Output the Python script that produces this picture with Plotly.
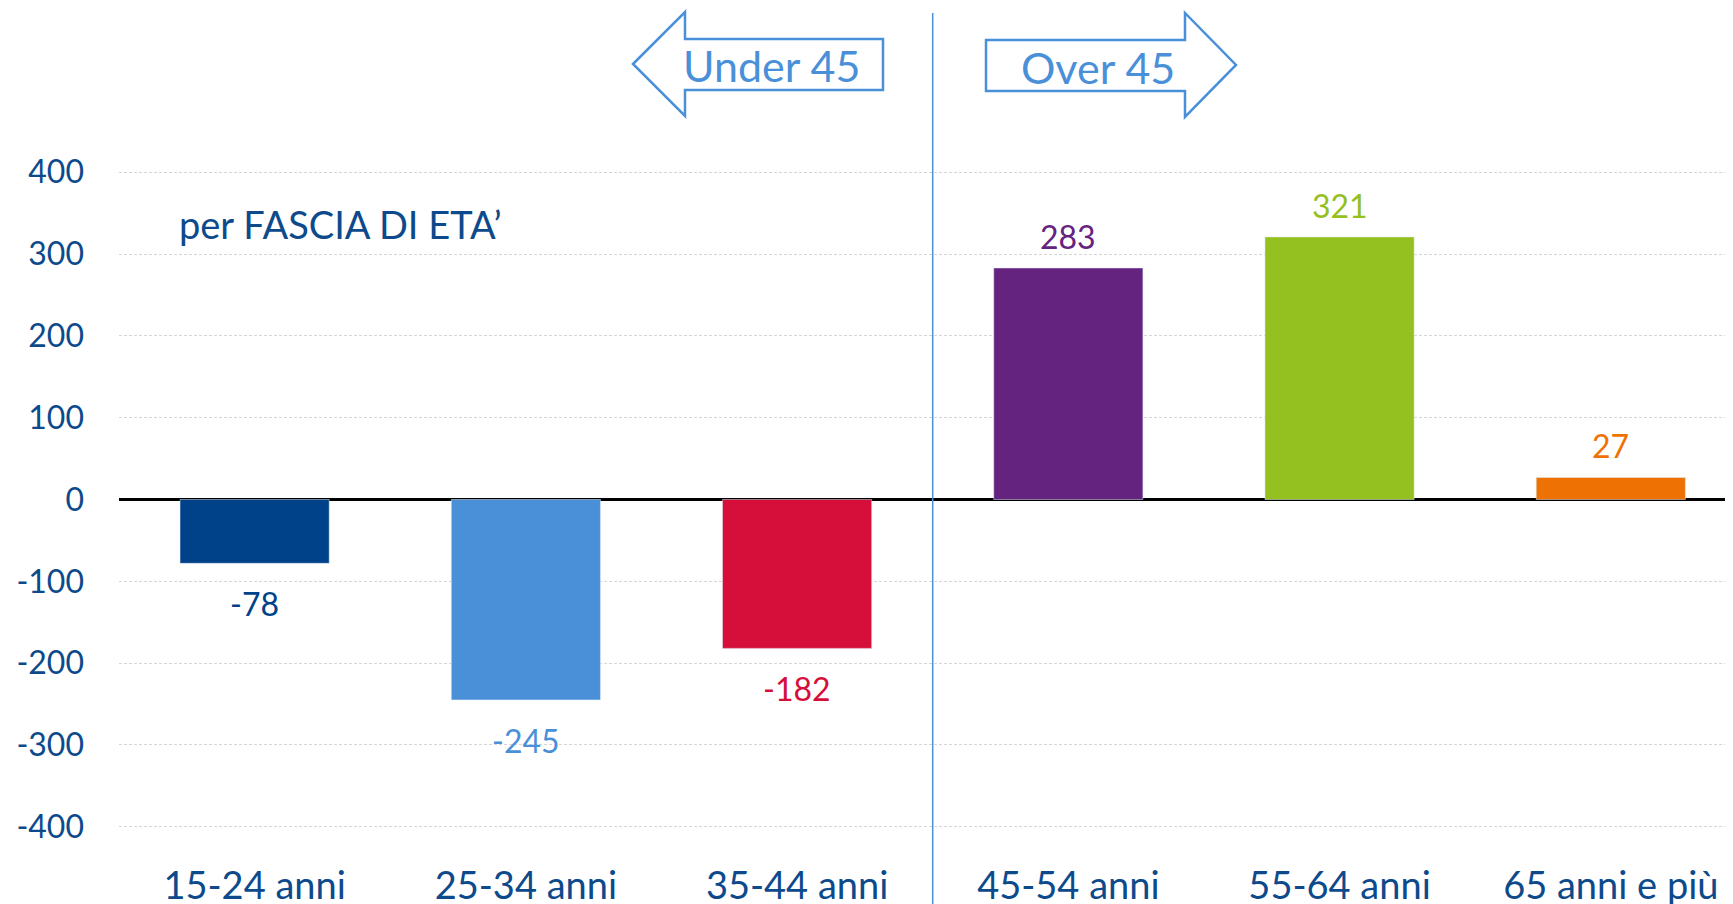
import plotly.graph_objects as go

# data
categories = ["15-24 anni", "25-34 anni", "35-44 anni", "45-54 anni", "55-64 anni", "65 anni e più"]
values = [-78, -245, -182, 283, 321, 27]
bar_colors = ["#00428a", "#4a90d9", "#d50f3a", "#652380", "#94c11f", "#ee7203"]
y_ticks = [-400, -300, -200, -100, 0, 100, 200, 300, 400]
y_tick_text = ["-400", "-300", "-200", "-100", "0", "100", "200", "300", "400"]

W, H = 1733, 904
OFF = 8  # page offset of the plot div
# plot area in page pixels (as seen in the screenshot), y range is +-404
PAGE_L, PAGE_R, PAGE_T, PAGE_B = 119, 1741, 169, 830
M_L, M_R = PAGE_L - OFF, W - (PAGE_R - OFF)
M_T, M_B = PAGE_T - OFF, H - (PAGE_B - OFF)

TEXT_BLUE = "#0d4a8c"
LINE_BLUE = "#4a90d9"
FONT = "Lato"


def px_x(p):
    return (p - PAGE_L) / (PAGE_R - PAGE_L)


def px_y(p):
    return (PAGE_B - p) / (PAGE_B - PAGE_T)


fig = go.Figure()

fig.add_trace(
    go.Bar(
        x=list(range(len(categories))),
        y=values,
        marker_color=bar_colors,
        width=0.55,
        hoverinfo="x+y",
    )
)

# value labels coloured like the bars
for i, (v, c) in enumerate(zip(values, bar_colors)):
    fig.add_annotation(
        x=i, y=v, text=str(v), showarrow=False,
        yanchor="bottom" if v >= 0 else "top",
        yshift=10 if v >= 0 else -19,
        font=dict(family=FONT, size=32, color=c),
    )

# divider between under/over 45
fig.add_shape(
    type="line", xref="x", yref="paper",
    x0=2.5, x1=2.5, y0=px_y(H + 10), y1=px_y(13),
    line=dict(color=LINE_BLUE, width=1.5),
)

# left arrow "Under 45"
left_arrow = [(633, 64), (685, 12), (685, 39), (883, 39), (883, 90), (685, 90), (685, 116)]
# right arrow "Over 45"
right_arrow = [(986, 40), (1185, 40), (1185, 13), (1236, 65), (1185, 117), (1185, 91), (986, 91)]
for pts in (left_arrow, right_arrow):
    path = "M " + " L ".join(f"{px_x(x):.5f},{px_y(y):.5f}" for x, y in pts) + " Z"
    fig.add_shape(
        type="path", xref="paper", yref="paper", path=path,
        line=dict(color=LINE_BLUE, width=2.5), fillcolor="white",
    )

fig.add_annotation(
    xref="paper", yref="paper", x=px_x(771), y=px_y(65), text="Under 45",
    showarrow=False, xanchor="center", yanchor="middle",
    font=dict(family=FONT, size=43, color=LINE_BLUE),
)
fig.add_annotation(
    xref="paper", yref="paper", x=px_x(1098), y=px_y(67), text="Over 45",
    showarrow=False, xanchor="center", yanchor="middle",
    font=dict(family=FONT, size=43, color=LINE_BLUE),
)

fig.add_annotation(
    xref="paper", yref="paper", x=px_x(177), y=px_y(224), text="per FASCIA DI ETA’",
    showarrow=False, xanchor="left", yanchor="middle",
    font=dict(family=FONT, size=38, color=TEXT_BLUE),
)

fig.update_layout(
    width=W, height=H,
    margin=dict(l=M_L, r=M_R, t=M_T, b=M_B),
    paper_bgcolor="white",
    plot_bgcolor="white",
    showlegend=False,
)

fig.update_xaxes(
    tickmode="array",
    tickvals=list(range(len(categories))),
    ticktext=categories,
    range=[-0.5, 5.48],
    showgrid=False,
    showline=False,
    zeroline=False,
    ticklabelstandoff=30,
    tickfont=dict(family=FONT, size=38, color=TEXT_BLUE),
)

fig.update_yaxes(
    range=[-404, 404],
    tickmode="array",
    tickvals=y_ticks,
    ticktext=y_tick_text,
    showgrid=True,
    gridcolor="#d6d6d6",
    griddash="3px,2px",
    gridwidth=1,
    zeroline=True,
    zerolinecolor="black",
    zerolinewidth=2.5,
    showline=False,
    ticklabelstandoff=34,
    tickfont=dict(family=FONT, size=32, color=TEXT_BLUE),
)

fig.write_html("out.html")
